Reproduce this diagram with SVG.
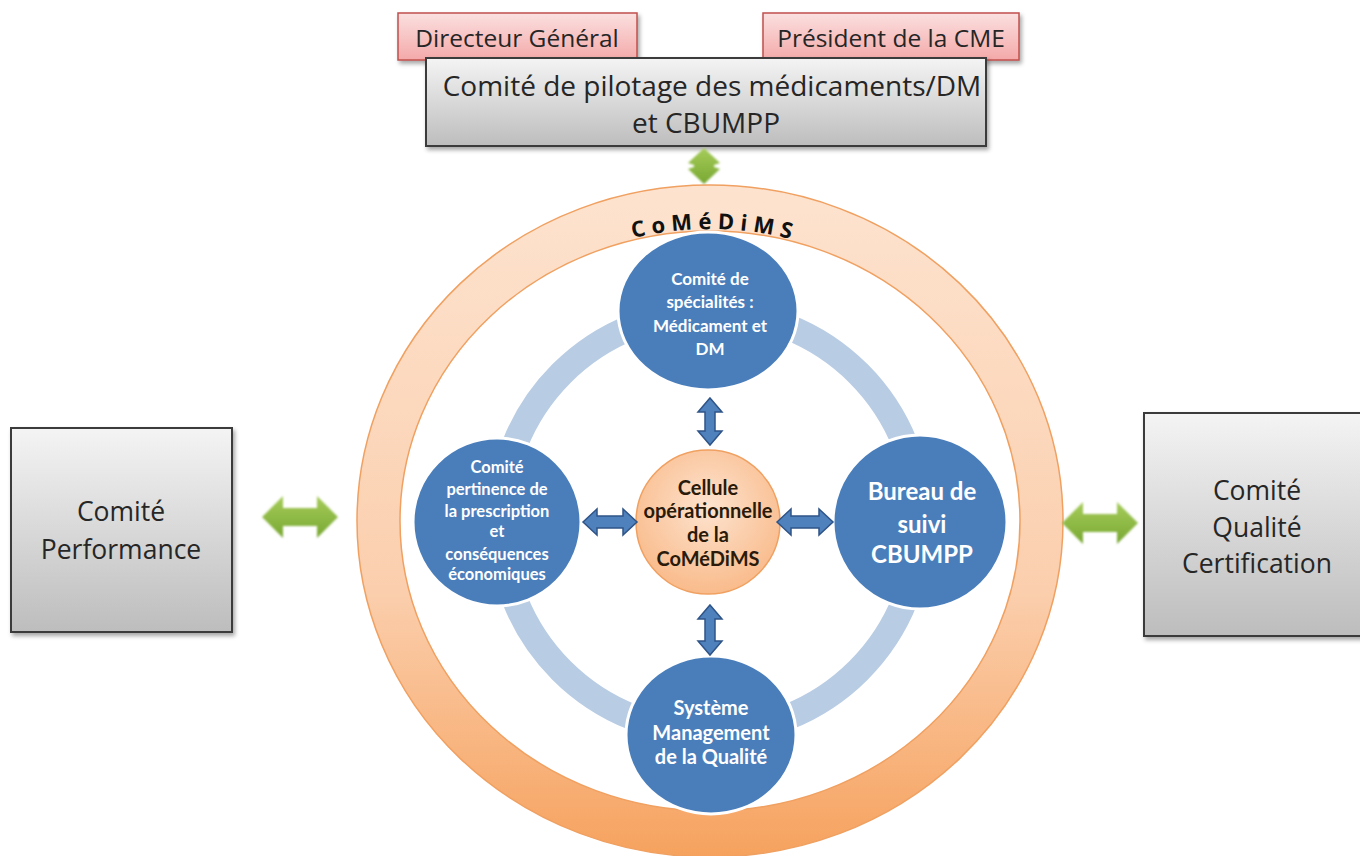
<svg xmlns="http://www.w3.org/2000/svg" width="1360" height="856" viewBox="0 0 1360 856">
<defs>
<linearGradient id="gGrey" x1="0" y1="0" x2="0" y2="1"><stop offset="0" stop-color="#f4f4f4"/><stop offset="1" stop-color="#bdbdbd"/></linearGradient>
<linearGradient id="gPink" x1="0" y1="0" x2="0" y2="1"><stop offset="0" stop-color="#fbe0e0"/><stop offset="1" stop-color="#f4a9a9"/></linearGradient>
<linearGradient id="gRing" x1="0" y1="0" x2="0" y2="1"><stop offset="0" stop-color="#fde3cf"/><stop offset="0.6" stop-color="#fbcfae"/><stop offset="1" stop-color="#f6a25e"/></linearGradient>
<radialGradient id="gCenter" cx="0.5" cy="0.4" r="0.6"><stop offset="0" stop-color="#fde3cf"/><stop offset="1" stop-color="#f9bb8b"/></radialGradient>
<linearGradient id="gGreen" x1="0" y1="0" x2="0" y2="1"><stop offset="0" stop-color="#a6cc5a"/><stop offset="1" stop-color="#78a832"/></linearGradient>
<filter id="shadow" x="-10%" y="-10%" width="125%" height="130%"><feDropShadow dx="2" dy="3" stdDeviation="2" flood-color="#000" flood-opacity="0.35"/></filter>
<filter id="soft" x="-20%" y="-20%" width="140%" height="140%"><feGaussianBlur stdDeviation="0.8"/></filter>
<path id="arcText" d="M 398,521 A 312 292 0 0 1 1022,521" fill="none"/>
<style>
.grey{fill:url(#gGrey);stroke:#3a3a3a;stroke-width:2;filter:url(#shadow)}
.pink{fill:url(#gPink);stroke:#c0504d;stroke-width:1.5;filter:url(#shadow)}
.blue{fill:#4a7ebb;stroke:#ffffff;stroke-width:3}
.barrow{fill:#4f81bd;stroke:#2f5488;stroke-width:1.5}
.garrow{fill:url(#gGreen);stroke:none;filter:url(#soft)}
.t{font-family:"Open Sans","Liberation Sans",sans-serif;text-anchor:middle;fill:#262626}
.w{font-family:"Lato","Liberation Sans",sans-serif;text-anchor:middle;fill:#ffffff;font-weight:bold}
.c{font-family:"Lato","Liberation Sans",sans-serif;text-anchor:middle;fill:#2a1a0a;font-weight:bold}
</style>
</defs>
<rect width="1360" height="856" fill="#ffffff"/>

<g id="comedims-ring">
<ellipse cx="710" cy="521" rx="353" ry="336" fill="url(#gRing)" stroke="#f0a060" stroke-width="1.5"/>
<ellipse cx="710" cy="521" rx="310" ry="290" fill="#ffffff" stroke="#f0a060" stroke-width="1.5"/>
<text font-family="Open Sans, Liberation Sans, sans-serif" font-size="22" font-weight="bold" letter-spacing="6" fill="#111"><textPath href="#arcText" startOffset="50.5%" text-anchor="middle">CoMéDiMS</textPath></text>
</g>

<g id="inner-ring">
<circle cx="710" cy="522" r="210" fill="none" stroke="#b8cce4" stroke-width="26"/>
</g>

<g id="directeur">
<rect x="398" y="13" width="239" height="47" class="pink"/>
<text x="517" y="47" class="t" font-size="24.5">Directeur Général</text>
</g>
<g id="president">
<rect x="763" y="13" width="256" height="47" class="pink"/>
<text x="891" y="47" class="t" font-size="24.5">Président de la CME</text>
</g>
<g id="pilotage">
<rect x="426" y="58" width="560" height="88" class="grey"/>
<text x="712" y="96" class="t" font-size="28">Comité de pilotage des médicaments/DM</text>
<text x="706" y="133" class="t" font-size="28">et CBUMPP</text>
</g>
<g id="performance">
<rect x="11" y="428" width="221" height="204" class="grey"/>
<text x="121" y="521" class="t" font-size="26.5">Comité</text>
<text x="121" y="559" class="t" font-size="26.5">Performance</text>
</g>
<g id="qualite">
<rect x="1144" y="413" width="230" height="223" class="grey"/>
<text x="1257" y="500" class="t" font-size="26.5">Comité</text>
<text x="1257" y="537" class="t" font-size="26.5">Qualité</text>
<text x="1257" y="573" class="t" font-size="26.5">Certification</text>
</g>

<g id="specialites">
<ellipse cx="708" cy="311" rx="90" ry="79" class="blue"/>
<text x="710" y="285" class="w" font-size="17" font-weight="normal">Comité de</text>
<text x="710" y="308" class="w" font-size="17">spécialités :</text>
<text x="710" y="332" class="w" font-size="17">Médicament et</text>
<text x="710" y="355" class="w" font-size="17">DM</text>
</g>
<g id="pertinence">
<circle cx="497" cy="522" r="84" class="blue"/>
<text x="497" y="473" class="w" font-size="16.5">Comité</text>
<text x="497" y="495" class="w" font-size="16.5">pertinence de</text>
<text x="497" y="517" class="w" font-size="16.5">la prescription</text>
<text x="497" y="537" class="w" font-size="16.5">et</text>
<text x="497" y="560" class="w" font-size="16.5">conséquences</text>
<text x="497" y="580" class="w" font-size="16.5">économiques</text>
</g>
<g id="bureau">
<circle cx="920" cy="522" r="87" class="blue"/>
<text x="922" y="500" class="w" font-size="24">Bureau de</text>
<text x="922" y="533" class="w" font-size="24">suivi</text>
<text x="922" y="563" class="w" font-size="24">CBUMPP</text>
</g>
<g id="systeme">
<ellipse cx="711" cy="735" rx="85" ry="79" class="blue"/>
<text x="711" y="715" class="w" font-size="20">Système</text>
<text x="711" y="740" class="w" font-size="20">Management</text>
<text x="711" y="764" class="w" font-size="20">de la Qualité</text>
</g>
<g id="cellule">
<circle cx="708" cy="522" r="72" fill="url(#gCenter)" stroke="#f0a060" stroke-width="1.5"/>
<text x="708" y="495" class="c" font-size="20">Cellule</text>
<text x="708" y="518" class="c" font-size="20">opérationnelle</text>
<text x="708" y="542" class="c" font-size="20">de la</text>
<text x="708" y="566" class="c" font-size="20">CoMéDiMS</text>
</g>

<g id="connectors">
<path class="barrow" d="M710,398 L722,412 L715,412 L715,431 L722,431 L710,445 L698,431 L705,431 L705,412 L698,412 Z"/>
<path class="barrow" d="M710,605 L722,619 L715,619 L715,641 L722,641 L710,655 L698,641 L705,641 L705,619 L698,619 Z"/>
<path class="barrow" d="M583,522 L597,509 L597,516 L623,516 L623,509 L637,522 L623,535 L623,528 L597,528 L597,535 Z"/>
<path class="barrow" d="M777,522 L791,509 L791,516 L819,516 L819,509 L833,522 L819,535 L819,528 L791,528 L791,535 Z"/>
<path class="garrow" d="M262,517 L283,496 L283,508 L317,508 L317,496 L338,517 L317,538 L317,526 L283,526 L283,538 Z"/>
<path class="garrow" d="M1062,523 L1083,502 L1083,514 L1117,514 L1117,502 L1138,523 L1117,544 L1117,532 L1083,532 L1083,544 Z"/>
<path class="garrow" d="M704,148 L720,163 L714,165 L714,167 L720,169 L704,184 L688,169 L694,167 L694,165 L688,163 Z"/>
</g>
</svg>
